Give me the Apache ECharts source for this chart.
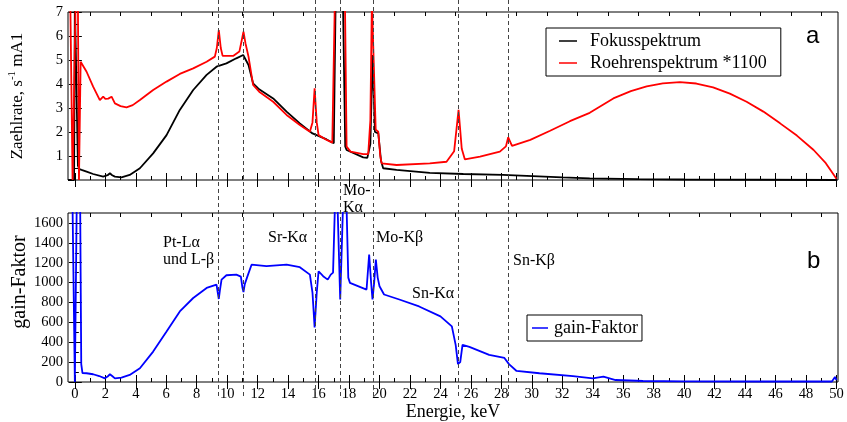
<!DOCTYPE html>
<html><head><meta charset="utf-8">
<script src="https://cdn.jsdelivr.net/npm/echarts@6/dist/echarts.min.js"></script>
<style>html,body{margin:0;padding:0;background:#fff}#c{width:847px;height:422px}</style>
</head><body><div id="c"></div>
<script>
// ---- data (energy keV, value) ----
const fokus = [[-0.45,0],[-0.05,0],[0.0,7.5],[0.12,7.5],[0.2,0.6],[0.3,0.45],[0.44,0.42],[0.77,0.35],[1.2,0.25],[1.86,0.14],[2.15,0.2],[2.3,0.28],[2.45,0.2],[2.63,0.14],[3.06,0.11],[3.6,0.21],[4.27,0.49],[5.14,1.11],[6.02,1.87],[6.89,2.92],[7.77,3.75],[8.65,4.38],[9.3,4.72],[9.95,4.86],[10.6,5.07],[11.05,5.21],[11.4,4.79],[11.7,4.03],[12.1,3.78],[13.02,3.40],[13.9,2.85],[14.77,2.36],[15.6,1.94],[16.53,1.69],[17.0,1.53],[17.12,7.5],[17.6,7.5],[17.75,1.4],[17.84,1.25],[18.93,0.94],[19.2,0.92],[19.4,1.5],[19.55,5.21],[19.7,2.0],[19.92,1.94],[20.1,0.8],[20.24,0.49],[21.12,0.42],[23.3,0.30],[25.5,0.25],[28.1,0.21],[32.0,0.11],[33.8,0.07],[37,0.04],[40,0.02],[45,0.01],[50,0.0]];
const roehren = [[-0.45,7.5],[-0.3,7.5],[-0.15,0],[0.05,7.5],[0.2,7.5],[0.27,0],[0.38,4.93],[0.77,4.51],[1.2,3.89],[1.64,3.33],[1.86,3.47],[2.0,3.38],[2.19,3.39],[2.41,3.47],[2.63,3.19],[3.0,3.08],[3.39,3.03],[3.8,3.12],[4.27,3.33],[5.14,3.75],[6.02,4.10],[6.89,4.42],[7.77,4.65],[8.65,4.93],[9.19,5.14],[9.32,5.5],[9.45,6.25],[9.58,5.5],[9.7,5.17],[10.39,5.17],[10.8,5.35],[10.95,5.8],[11.07,6.18],[11.2,5.7],[11.4,5.14],[11.7,3.96],[12.1,3.68],[13.02,3.26],[13.9,2.71],[14.77,2.29],[15.43,2.01],[15.6,2.4],[15.74,3.82],[15.88,2.4],[16.0,1.87],[16.53,1.67],[16.9,1.55],[17.07,7.5],[17.73,7.5],[17.84,1.39],[18.1,1.18],[18.93,1.08],[19.26,1.08],[19.4,2.5],[19.5,7.5],[19.62,7.5],[19.75,2.1],[19.92,2.01],[20.05,1.0],[20.14,0.69],[21.12,0.625],[23.3,0.69],[24.4,0.76],[24.9,1.2],[25.19,2.92],[25.4,1.3],[25.6,0.86],[26.6,0.97],[27.9,1.18],[28.3,1.4],[28.45,1.78],[28.7,1.42],[29.9,1.67],[31.2,2.05],[32.5,2.45],[33.8,2.8],[35.35,3.4],[36.5,3.7],[37.54,3.9],[38.6,4.03],[39.72,4.08],[40.8,4.02],[41.9,3.86],[43.0,3.6],[44.1,3.26],[45.2,2.85],[46.3,2.36],[47.4,1.85],[48.5,1.25],[49.3,0.7],[50.0,0.05]];
const gain = [[-0.45,1750],[-0.15,1750],[0.0,0],[0.12,1750],[0.35,1750],[0.42,180],[0.5,90],[0.77,88],[1.2,78],[1.6,60],[1.97,37],[2.15,55],[2.3,78],[2.45,60],[2.63,37],[3.06,44],[3.6,71],[4.27,138],[5.14,306],[6.02,508],[6.89,710],[7.77,845],[8.65,946],[9.3,980],[9.38,900],[9.45,835],[9.52,920],[9.63,1030],[9.95,1074],[10.6,1080],[10.9,1060],[11.0,950],[11.07,905],[11.15,980],[11.3,1050],[11.6,1180],[12.58,1165],[13.9,1180],[14.77,1155],[15.43,1080],[15.6,900],[15.74,548],[15.88,900],[16.0,1114],[16.3,1064],[16.6,1030],[16.8,1080],[16.95,1100],[17.07,1750],[17.25,1750],[17.42,830],[17.6,1750],[17.84,1750],[17.95,1050],[18.06,997],[19.15,930],[19.32,1283],[19.45,1000],[19.54,830],[19.65,1000],[19.76,1232],[19.88,1050],[20.0,963],[20.3,880],[21.3,830],[22.6,760],[24.0,660],[24.75,560],[25.0,374],[25.15,180],[25.3,200],[25.45,374],[25.9,353],[27.2,273],[28.2,242],[28.5,180],[29.0,111],[30.5,88],[32.7,60],[34.0,37],[34.7,54],[35.5,20],[37.3,10],[40,6],[45,5],[49.7,5],[49.9,50],[50.0,20]];
const lineEnergies = [9.44, 11.07, 15.8, 17.45, 19.6, 25.15, 28.45];
const xTickLabels = [0,2,4,6,8,10,12,14,16,18,20,22,24,26,28,30,32,34,36,38,40,42,44,46,48,50];
const xMinorTicks = [1,3,5,7,9,11,13,15,17,19,21,23,25,27,29,31,33,35,37,39,41,43,45,47,49];
const topYLabels = [1,2,3,4,5,6,7];
const topYMinor = [0.5,1.5,2.5,3.5,4.5,5.5,6.5];
const botYLabels = [0,200,400,600,800,1000,1200,1400,1600];
const botYMinor = [100,300,500,700,900,1100,1300,1500];

const XMIN = -0.45, XMAX = 50.1;
const SERIF = 'Liberation Serif';
const TOP = {left:68, top:12, width:770, height:168};
const BOT = {left:68, top:213, width:770, height:169};
const plain = v => String(v);

function xAx(g, pos, ticks, len, labels, extra) {
  return Object.assign({type:'value', gridIndex:g, position:pos, min:XMIN, max:XMAX,
    axisLine:{show:false}, splitLine:{show:false},
    axisTick:{show:true, inside:true, length:len, customValues:ticks, lineStyle:{color:'#000', width:1}},
    axisLabel: labels ? {show:true, customValues:labels, formatter:plain, margin:5, color:'#000', fontFamily:SERIF, fontSize:14.5} : {show:false}
  }, extra||{});
}
function yAx(g, pos, min, max, ticks, len, labels, extra) {
  return Object.assign({type:'value', gridIndex:g, position:pos, min:min, max:max,
    axisLine:{show:false}, splitLine:{show:false},
    axisTick:{show:true, inside:true, length:len, customValues:ticks, lineStyle:{color:'#000', width:1}},
    axisLabel: labels ? {show:true, customValues:labels, formatter:plain, margin:5, color:'#000', fontFamily:SERIF, fontSize:14.5} : {show:false}
  }, extra||{});
}
const G = {outerBoundsMode:'none', containLabel:false};

const chart = echarts.init(document.getElementById('c'), null, {renderer:'canvas'});
chart.setOption({
  animation:false,
  backgroundColor:'#fff',
  grid:[
    Object.assign({show:true, borderColor:'#000', borderWidth:1, backgroundColor:'transparent'}, G, TOP),
    Object.assign({show:false}, G, TOP),
    Object.assign({show:true, borderColor:'#000', borderWidth:1, backgroundColor:'transparent'}, G, BOT),
    Object.assign({show:false}, G, BOT),
    Object.assign({show:false, left:68, top:0, width:770, height:396}, G)
  ],
  xAxis:[
    xAx(0,'bottom',xTickLabels,7,null),
    xAx(0,'top',xTickLabels,7,null),
    xAx(1,'bottom',xMinorTicks,4,null),
    xAx(1,'top',xMinorTicks,4,null),
    xAx(2,'bottom',xTickLabels,7,xTickLabels,{name:'Energie, keV', nameLocation:'middle', nameGap:19,
      nameTextStyle:{fontFamily:SERIF, fontSize:18, color:'#000'}}),
    xAx(2,'top',xTickLabels,7,null),
    xAx(3,'bottom',xMinorTicks,4,null),
    xAx(3,'top',xMinorTicks,4,null),
    {type:'value', gridIndex:4, min:XMIN, max:XMAX, show:false}
  ],
  yAxis:[
    yAx(0,'left',0,7,topYLabels,7,topYLabels,{name:'{n|Zaehlrate, s}{s|-1}{n| mA1}', nameLocation:'middle', nameGap:39,
      nameTextStyle:{fontFamily:SERIF, fontSize:17, color:'#000', rich:{
        n:{fontFamily:SERIF, fontSize:17, color:'#000', lineHeight:22},
        s:{fontFamily:SERIF, fontSize:11, color:'#000', lineHeight:22, verticalAlign:'top'}}}}),
    yAx(0,'right',0,7,topYLabels,6,null),
    yAx(1,'left',0,7,topYMinor,4,null),
    yAx(2,'left',0,1700,botYLabels,7,botYLabels),
    yAx(2,'right',0,1700,botYLabels,6,null),
    yAx(3,'left',0,1700,botYMinor,4,null),
    {type:'value', gridIndex:4, min:0, max:1, show:false}
  ],
  legend:[
    {left:546, top:28, orient:'vertical', selectedMode:false, data:['Fokusspektrum','Roehrenspektrum *1100'],
     icon:'rect', itemWidth:18, itemHeight:1.5, itemGap:4, padding:[4,14,4,13],
     borderColor:'#000', borderWidth:1, backgroundColor:'#fff',
     textStyle:{fontFamily:SERIF, fontSize:18, color:'#000', padding:[0,0,0,8]}},
    {left:527, top:315, orient:'vertical', selectedMode:false, data:['gain-Faktor'],
     icon:'rect', itemWidth:16, itemHeight:1.5, padding:[4,4,4,5],
     borderColor:'#000', borderWidth:1, backgroundColor:'#fff',
     textStyle:{fontFamily:SERIF, fontSize:18, color:'#000', padding:[0,0,0,1]}}
  ],
  series:[
    {name:'Fokusspektrum', type:'line', xAxisIndex:0, yAxisIndex:0, data:fokus, showSymbol:false,
     lineStyle:{color:'#000', width:1.8}, itemStyle:{color:'#000'}, z:3},
    {name:'Roehrenspektrum *1100', type:'line', xAxisIndex:0, yAxisIndex:0, data:roehren, showSymbol:false,
     lineStyle:{color:'#ff0000', width:1.8}, itemStyle:{color:'#ff0000'}, z:4},
    {name:'gain-Faktor', type:'line', xAxisIndex:4, yAxisIndex:3, data:gain, showSymbol:false,
     lineStyle:{color:'#0000ff', width:1.8}, itemStyle:{color:'#0000ff'}, z:3},
    {name:'lines', type:'line', xAxisIndex:8, yAxisIndex:6, data:[[0,-5]], showSymbol:false, z:1,
     lineStyle:{opacity:0},
     markLine:{silent:true, symbol:['none','none'], label:{show:false},
       lineStyle:{type:[4,3], color:'#444', width:1},
       data: lineEnergies.map(v => ({xAxis:v}))}}
  ],
  graphic:[
    {type:'text', x:20, y:282, rotation:Math.PI/2, style:{text:'gain-Faktor', font:'20px "Liberation Serif"', fill:'#000', align:'center', verticalAlign:'middle'}},
    {type:'text', left:343, top:182, style:{text:'Mo-\nKα', font:'16px "Liberation Serif"', lineHeight:17, fill:'#000'}},
    {type:'text', left:163, top:234, style:{text:'Pt-Lα\nund L-β', font:'16px "Liberation Serif"', lineHeight:17, fill:'#000'}},
    {type:'text', left:268, top:230, style:{text:'Sr-Kα', font:'16px "Liberation Serif"', fill:'#000'}},
    {type:'text', left:376, top:230, style:{text:'Mo-Kβ', font:'16px "Liberation Serif"', fill:'#000'}},
    {type:'text', left:412, top:286, style:{text:'Sn-Kα', font:'16px "Liberation Serif"', fill:'#000'}},
    {type:'text', left:513, top:253, style:{text:'Sn-Kβ', font:'16px "Liberation Serif"', fill:'#000'}},
    {type:'text', left:806, top:24, style:{text:'a', font:'24px "Liberation Sans"', fill:'#000'}},
    {type:'text', left:807, top:249, style:{text:'b', font:'24px "Liberation Sans"', fill:'#000'}}
  ]
});
</script></body></html>
